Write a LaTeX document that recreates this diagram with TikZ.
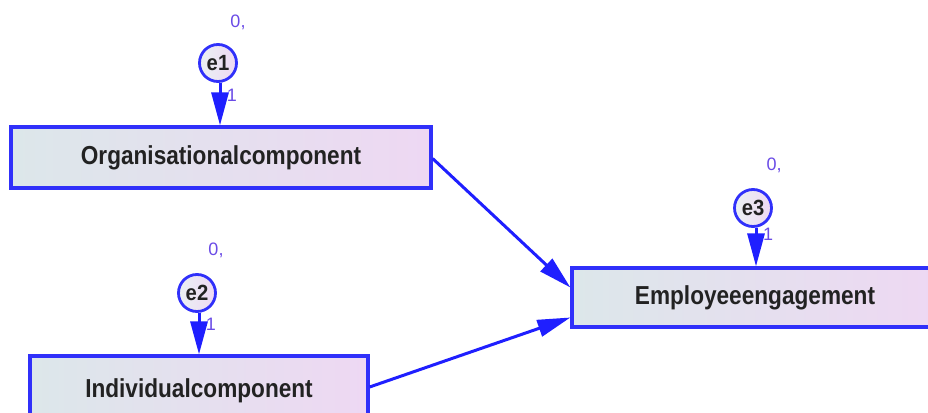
\documentclass[tikz,border=0pt]{standalone}
\usepackage{fontspec}
\usepackage{graphicx}
\setmainfont{Liberation Sans}
\usetikzlibrary{arrows.meta,calc}
\definecolor{bordblue}{HTML}{3030FA}
\definecolor{lineblue}{HTML}{1F1FFF}
\definecolor{fillL}{HTML}{DCE7EA}
\definecolor{fillR}{HTML}{EED8F3}
\definecolor{labpurple}{HTML}{6A4BE6}
\definecolor{txtdark}{HTML}{222222}
\tikzset{
  varbox/.style={draw=bordblue, line width=3.2pt, left color=fillL, right color=fillR,
    inner sep=0pt, anchor=center, text=txtdark, font=\fontsize{26}{30}\selectfont\bfseries},
  errc/.style={circle, draw=bordblue, line width=2.8pt, left color=fillL!60!white, right color=fillR,
    minimum size=37pt, inner sep=0pt, text=txtdark, font=\fontsize{22}{24}\selectfont\bfseries},
  lab/.style={text=labpurple, font=\fontsize{18}{20}\selectfont, inner sep=0pt},
  path/.style={draw=lineblue, line width=3pt, -{Triangle[length=33pt,width=17pt]}},
}
\begin{document}
\begin{tikzpicture}[x=1pt,y=-1pt]
\useasboundingbox (0,0) rectangle (928,412);
% boxes
\node[varbox, minimum width=420pt, minimum height=61pt] (org) at (221,157.5) {\scalebox{0.87}[1]{Organisationalcomponent}};
\node[varbox, minimum width=338pt, minimum height=70pt] (ind) at (199,391) {\raisebox{6pt}{\scalebox{0.87}[1]{Individualcomponent}}};
\node[varbox, minimum width=366pt, minimum height=59pt] (emp) at (755,297.5) {\scalebox{0.87}[1]{Employeeengagement}};
% error terms
\node[errc] (e1) at (218,63) {\scalebox{0.92}[1]{e1}};
\node[errc] (e2) at (197,293) {\scalebox{0.92}[1]{e2}};
\node[errc] (e3) at (753,208) {\scalebox{0.92}[1]{e3}};
% labels
\node[lab] (v1) at (238,22) {0,};
\node[lab] (v2) at (216,250) {0,};
\node[lab] (v3) at (774,165) {0,};
\node[lab] (w1) at (232,95) {1};
\node[lab] (w2) at (211,324) {1};
\node[lab] (w3) at (768,234) {1};
% error arrows
\draw[path] ([xshift=2pt]e1.south) -- ([xshift=2pt]e1.south |- org.north);
\draw[path] ([xshift=2pt]e2.south) -- ([xshift=2pt]e2.south |- ind.north);
\draw[path] ([xshift=3pt]e3.south) -- ([xshift=3pt]e3.south |- emp.north);
% regression paths
\coordinate (ea) at ($(emp.west)+(0,-10)$);
\coordinate (eb) at ($(emp.west)+(0,20)$);
\draw[path] ($(org.east)+(0,1)$) -- (ea);
\draw[path] ($(ind.east)+(0,-4)$) -- (eb);
\end{tikzpicture}
\end{document}
